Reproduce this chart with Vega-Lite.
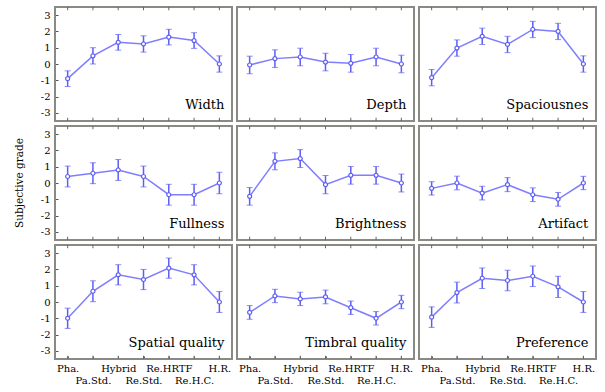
{
  "$schema": "https://vega.github.io/schema/vega-lite/v6.json",
  "background": "white",
  "padding": {"left": 14, "top": 5, "right": 5, "bottom": 0},
  "bounds": "flush",
  "data": {"values": [
    {"p":"Width","r":1,"c":1,"x":"Pha.","m":-0.9,"e":0.48},
    {"p":"Width","r":1,"c":1,"x":"Pa.Std.","m":0.5,"e":0.5},
    {"p":"Width","r":1,"c":1,"x":"Hybrid","m":1.33,"e":0.48},
    {"p":"Width","r":1,"c":1,"x":"Re.Std.","m":1.23,"e":0.5},
    {"p":"Width","r":1,"c":1,"x":"Re.HRTF","m":1.65,"e":0.48},
    {"p":"Width","r":1,"c":1,"x":"Re.H.C.","m":1.44,"e":0.48},
    {"p":"Width","r":1,"c":1,"x":"H.R.","m":0.0,"e":0.5},
    {"p":"Depth","r":1,"c":2,"x":"Pha.","m":-0.06,"e":0.54},
    {"p":"Depth","r":1,"c":2,"x":"Pa.Std.","m":0.33,"e":0.54},
    {"p":"Depth","r":1,"c":2,"x":"Hybrid","m":0.43,"e":0.54},
    {"p":"Depth","r":1,"c":2,"x":"Re.Std.","m":0.12,"e":0.54},
    {"p":"Depth","r":1,"c":2,"x":"Re.HRTF","m":0.04,"e":0.54},
    {"p":"Depth","r":1,"c":2,"x":"Re.H.C.","m":0.43,"e":0.54},
    {"p":"Depth","r":1,"c":2,"x":"H.R.","m":0.0,"e":0.54},
    {"p":"Spaciousnes","r":1,"c":3,"x":"Pha.","m":-0.84,"e":0.5},
    {"p":"Spaciousnes","r":1,"c":3,"x":"Pa.Std.","m":0.98,"e":0.5},
    {"p":"Spaciousnes","r":1,"c":3,"x":"Hybrid","m":1.7,"e":0.5},
    {"p":"Spaciousnes","r":1,"c":3,"x":"Re.Std.","m":1.2,"e":0.5},
    {"p":"Spaciousnes","r":1,"c":3,"x":"Re.HRTF","m":2.12,"e":0.5},
    {"p":"Spaciousnes","r":1,"c":3,"x":"Re.H.C.","m":2.0,"e":0.5},
    {"p":"Spaciousnes","r":1,"c":3,"x":"H.R.","m":0.0,"e":0.5},
    {"p":"Fullness","r":2,"c":1,"x":"Pha.","m":0.4,"e":0.64},
    {"p":"Fullness","r":2,"c":1,"x":"Pa.Std.","m":0.6,"e":0.64},
    {"p":"Fullness","r":2,"c":1,"x":"Hybrid","m":0.8,"e":0.64},
    {"p":"Fullness","r":2,"c":1,"x":"Re.Std.","m":0.4,"e":0.64},
    {"p":"Fullness","r":2,"c":1,"x":"Re.HRTF","m":-0.72,"e":0.64},
    {"p":"Fullness","r":2,"c":1,"x":"Re.H.C.","m":-0.72,"e":0.64},
    {"p":"Fullness","r":2,"c":1,"x":"H.R.","m":0.0,"e":0.66},
    {"p":"Brightness","r":2,"c":2,"x":"Pha.","m":-0.82,"e":0.54},
    {"p":"Brightness","r":2,"c":2,"x":"Pa.Std.","m":1.33,"e":0.52},
    {"p":"Brightness","r":2,"c":2,"x":"Hybrid","m":1.5,"e":0.55},
    {"p":"Brightness","r":2,"c":2,"x":"Re.Std.","m":-0.1,"e":0.56},
    {"p":"Brightness","r":2,"c":2,"x":"Re.HRTF","m":0.47,"e":0.54},
    {"p":"Brightness","r":2,"c":2,"x":"Re.H.C.","m":0.47,"e":0.54},
    {"p":"Brightness","r":2,"c":2,"x":"H.R.","m":0.0,"e":0.55},
    {"p":"Artifact","r":2,"c":3,"x":"Pha.","m":-0.33,"e":0.41},
    {"p":"Artifact","r":2,"c":3,"x":"Pa.Std.","m":0.0,"e":0.42},
    {"p":"Artifact","r":2,"c":3,"x":"Hybrid","m":-0.62,"e":0.42},
    {"p":"Artifact","r":2,"c":3,"x":"Re.Std.","m":-0.1,"e":0.43},
    {"p":"Artifact","r":2,"c":3,"x":"Re.HRTF","m":-0.72,"e":0.42},
    {"p":"Artifact","r":2,"c":3,"x":"Re.H.C.","m":-1.0,"e":0.42},
    {"p":"Artifact","r":2,"c":3,"x":"H.R.","m":0.0,"e":0.41},
    {"p":"Spatial quality","r":3,"c":1,"x":"Pha.","m":-1.0,"e":0.62},
    {"p":"Spatial quality","r":3,"c":1,"x":"Pa.Std.","m":0.66,"e":0.64},
    {"p":"Spatial quality","r":3,"c":1,"x":"Hybrid","m":1.67,"e":0.62},
    {"p":"Spatial quality","r":3,"c":1,"x":"Re.Std.","m":1.38,"e":0.62},
    {"p":"Spatial quality","r":3,"c":1,"x":"Re.HRTF","m":2.08,"e":0.62},
    {"p":"Spatial quality","r":3,"c":1,"x":"Re.H.C.","m":1.67,"e":0.62},
    {"p":"Spatial quality","r":3,"c":1,"x":"H.R.","m":0.0,"e":0.64},
    {"p":"Timbral quality","r":3,"c":2,"x":"Pha.","m":-0.64,"e":0.42},
    {"p":"Timbral quality","r":3,"c":2,"x":"Pa.Std.","m":0.37,"e":0.41},
    {"p":"Timbral quality","r":3,"c":2,"x":"Hybrid","m":0.19,"e":0.41},
    {"p":"Timbral quality","r":3,"c":2,"x":"Re.Std.","m":0.31,"e":0.42},
    {"p":"Timbral quality","r":3,"c":2,"x":"Re.HRTF","m":-0.35,"e":0.41},
    {"p":"Timbral quality","r":3,"c":2,"x":"Re.H.C.","m":-1.0,"e":0.41},
    {"p":"Timbral quality","r":3,"c":2,"x":"H.R.","m":0.0,"e":0.41},
    {"p":"Preference","r":3,"c":3,"x":"Pha.","m":-0.93,"e":0.63},
    {"p":"Preference","r":3,"c":3,"x":"Pa.Std.","m":0.58,"e":0.64},
    {"p":"Preference","r":3,"c":3,"x":"Hybrid","m":1.46,"e":0.63},
    {"p":"Preference","r":3,"c":3,"x":"Re.Std.","m":1.32,"e":0.63},
    {"p":"Preference","r":3,"c":3,"x":"Re.HRTF","m":1.58,"e":0.63},
    {"p":"Preference","r":3,"c":3,"x":"Re.H.C.","m":0.93,"e":0.65},
    {"p":"Preference","r":3,"c":3,"x":"H.R.","m":0.0,"e":0.64}
  ]},
  "facet": {
    "row": {"field": "r", "type": "ordinal", "header": {"labels": false, "title": "Subjective grade", "titleFont": "DejaVu Serif", "titleFontSize": 10.5, "titleFontWeight": "normal", "titleColor": "black", "titlePadding": 5}},
    "column": {"field": "c", "type": "ordinal", "header": {"labels": false, "title": null}}
  },
  "spacing": {"row": 5, "column": 5},
  "spec": {
    "width": 177,
    "height": 114,
    "encoding": {
      "x": {"field": "x", "type": "ordinal",
        "scale": {"type": "point", "padding": 0.5, "domain": ["Pha.","Pa.Std.","Hybrid","Re.Std.","Re.HRTF","Re.H.C.","H.R."]},
        "axis": {"title": null, "labelAngle": 0, "labelPadding": 7, "tickSize": -3, "labelLineHeight": 12, "labelFontSize": 10,
          "labelExpr": "indexof(['Pa.Std.','Re.Std.','Re.H.C.'], datum.label) >= 0 ? ['', datum.label] : [datum.label, '']"}},
      "y": {"field": "m", "type": "quantitative",
        "scale": {"domain": [-3.5, 3.5], "nice": false, "zero": false},
        "axis": {"title": null, "values": [-3,-2,-1,0,1,2,3], "tickSize": -3, "labelPadding": 8, "labelFontSize": 10, "labelExpr": "'' + datum.value"}}
    },
    "layer": [
      {"mark": {"type": "rule", "color": "#666666", "strokeWidth": 1},
       "encoding": {"y": {"datum": 3.5, "type": "quantitative"}, "y2": {"datum": 3.3}}},
      {"mark": {"type": "rule", "color": "#666666", "strokeWidth": 1},
       "encoding": {"y": {"datum": -3.5, "type": "quantitative"}, "y2": {"datum": -3.3}}},
      {"mark": {"type": "line", "color": "#7e7eff", "strokeWidth": 1.5}},
      {"mark": {"type": "errorbar", "ticks": {"size": 6, "color": "#5e5ef4", "strokeWidth": 1.5}, "rule": {"color": "#5e5ef4", "strokeWidth": 1.5}},
       "encoding": {"yError": {"field": "e"}}},
      {"mark": {"type": "point", "filled": true, "fill": "white", "stroke": "#5e5ef4", "strokeWidth": 1.2, "size": 16, "opacity": 1}},
      {"transform": [{"filter": "datum.x == 'H.R.'"}],
       "mark": {"type": "text", "align": "right", "baseline": "alphabetic", "dx": 5, "font": "DejaVu Serif", "fontSize": 13, "color": "black"},
       "encoding": {"y": {"datum": -2.75, "type": "quantitative"}, "text": {"field": "p"}}}
    ]
  },
  "config": {
    "font": "DejaVu Serif",
    "view": {"stroke": "#8a8a84", "strokeWidth": 2},
    "axis": {"domain": false, "grid": false, "labelFont": "DejaVu Serif", "labelColor": "black", "tickColor": "#555555"}
  }
}
